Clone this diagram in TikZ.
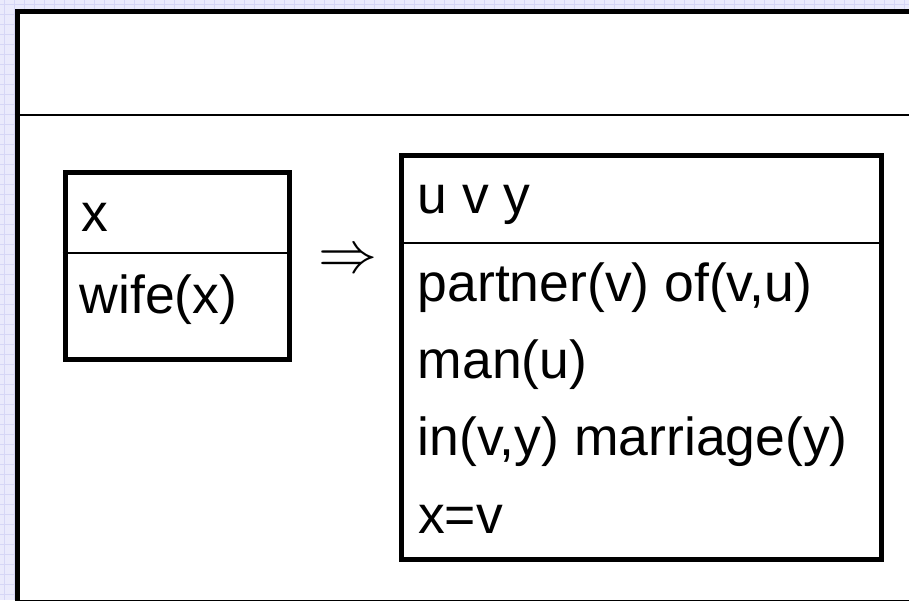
\documentclass[tikz,border=0pt]{standalone}
\usepackage{fontspec}
\setmainfont{Liberation Sans}
\definecolor{bgblue}{RGB}{234,234,252}
\definecolor{gridblue}{RGB}{214,214,246}
\tikzset{
  drsbox/.style={draw=black, line width=5pt, fill=white, inner sep=0pt, anchor=north west},
  divider/.style={draw=black, line width=2pt},
  drstext/.style={anchor=base west, inner sep=0pt, font=\fontsize{53.5}{60}\selectfont},
}
\begin{document}
\begin{tikzpicture}[x=1pt,y=-1pt]
\useasboundingbox (0,0) rectangle (909,600);
\clip (0,0) rectangle (909,600);
% background grid paper
\fill[bgblue] (0,0) rectangle (909,600);
\foreach \g in {0,10,...,900} {\draw[gridblue, line width=0.8pt] (\g+4,0) -- (\g+4,600);}
\foreach \g in {0,10,...,600} {\draw[gridblue, line width=0.8pt] (0,\g+4) -- (909,\g+4);}
% main frame
\node[drsbox, minimum width=935pt, minimum height=591pt] (frame) at (14.5,9) {};
\draw[divider] (frame.west |- 0,115) -- (915,115);
% left box
\node[drsbox, minimum width=224pt, minimum height=187pt] (lbox) at (62.5,169.5) {};
\draw[divider] (lbox.west |- 0,253) -- (lbox.east |- 0,253);
\node[drstext] (lx) at (81,231) {x};
\node[drstext] (lwife) at (79.5,313) {wife(x)};
% arrow
\node[inner sep=0pt] (arr) at (347.5,262) {\scalebox{5.9}{$\Rightarrow$}};
% right box
\node[drsbox, minimum width=480pt, minimum height=404.5pt] (rbox) at (399,152.5) {};
\draw[divider] (rbox.west |- 0,243) -- (rbox.east |- 0,243);
\node[drstext] (ruvy) at (417.5,213) {u v y};
\node[drstext] (rpartner) at (417.5,301) {partner(v) of(v,u)};
\node[drstext] (rman) at (417.5,378) {man(u)};
\node[drstext] (rin) at (417.5,455) {in(v,y) marriage(y)};
\node[drstext] (rxv) at (418,533) {x=v};
\end{tikzpicture}
\end{document}
